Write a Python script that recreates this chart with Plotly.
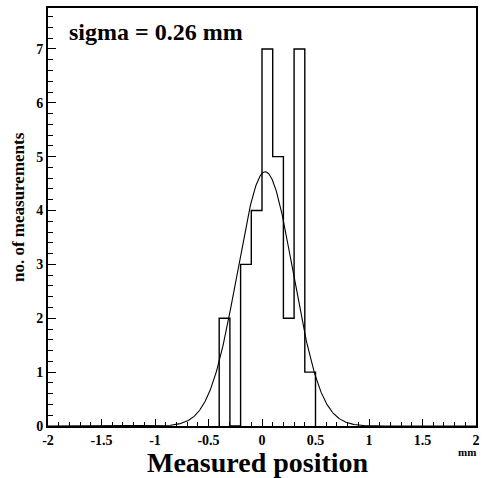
import numpy as np
import plotly.graph_objects as go

# Histogram data (bin edges and counts)
bin_edges = [-0.4, -0.3, -0.2, -0.1, 0.0, 0.1, 0.2, 0.3, 0.4, 0.5]
counts = [2, 0, 3, 4, 7, 5, 2, 7, 1]

# Gaussian fit parameters
fit_amplitude = 4.72
fit_mean = 0.03
fit_sigma = 0.26

x_ticks = [-2, -1.5, -1, -0.5, 0, 0.5, 1, 1.5, 2]
x_ticklabels = ["-2", "-1.5", "-1", "-0.5", "0", "0.5", "1", "1.5", "2"]
y_ticks = [0, 1, 2, 3, 4, 5, 6, 7]

# Step outline of histogram
xs = [bin_edges[0]] + bin_edges[:-1] + [bin_edges[-1]]
ys = [0] + counts + [0]

xf = np.linspace(-2, 2, 801)
yf = fit_amplitude * np.exp(-0.5 * ((xf - fit_mean) / fit_sigma) ** 2)

FONT = "Liberation Serif"

fig = go.Figure()
fig.add_trace(go.Scatter(x=xs, y=ys, mode="lines", line=dict(color="black", width=1.4, shape="hv"),
                         hoverinfo="skip", showlegend=False))
fig.add_trace(go.Scatter(x=xf, y=yf, mode="lines", line=dict(color="black", width=1.1),
                         hoverinfo="skip", showlegend=False))

fig.update_layout(
    width=486, height=478,
    margin=dict(l=48, r=6, t=7, b=52),
    paper_bgcolor="white", plot_bgcolor="white",
    font=dict(family=FONT, color="black"),
    xaxis=dict(range=[-2, 2], tickmode="array", tickvals=x_ticks, ticktext=x_ticklabels,
               ticks="inside", ticklen=7, tickwidth=1, tickcolor="black",
               minor=dict(dtick=0.1, ticks="inside", ticklen=4, tickcolor="black", tickwidth=1),
               showline=True, linecolor="black", linewidth=2, mirror=True,
               showgrid=False, zeroline=False,
               tickfont=dict(family=FONT, size=14, weight="bold")),
    yaxis=dict(range=[0, 7.76], tickmode="array", tickvals=y_ticks,
               ticks="inside", ticklen=8, tickwidth=1, tickcolor="black",
               minor=dict(dtick=0.2, ticks="inside", ticklen=5, tickcolor="black", tickwidth=1),
               showline=True, linecolor="black", linewidth=2, mirror=True,
               showgrid=False, zeroline=False,
               tickfont=dict(family=FONT, size=14, weight="bold")),
    annotations=[
        dict(text="sigma = 0.26 mm", xref="paper", yref="paper", x=0.044, y=0.943,
             xanchor="left", yanchor="middle", showarrow=False,
             font=dict(family=FONT, size=24, weight="bold")),
        dict(text="Measured position", xref="paper", yref="paper", x=0.49, y=-0.088,
             xanchor="center", yanchor="middle", showarrow=False,
             font=dict(family=FONT, size=28, weight="bold")),
        dict(text="mm", xref="paper", yref="paper", x=0.979, y=-0.062,
             xanchor="center", yanchor="middle", showarrow=False,
             font=dict(family=FONT, size=11, weight="bold")),
        dict(text="no. of measurements", xref="paper", yref="paper", x=-0.069, y=0.525,
             xanchor="center", yanchor="middle", showarrow=False, textangle=-90,
             font=dict(family=FONT, size=17, weight="bold")),
    ],
)

fig.write_html("out.html", config={"displayModeBar": False},
               post_script="document.body.style.margin='0px';document.body.style.overflow='hidden';")
